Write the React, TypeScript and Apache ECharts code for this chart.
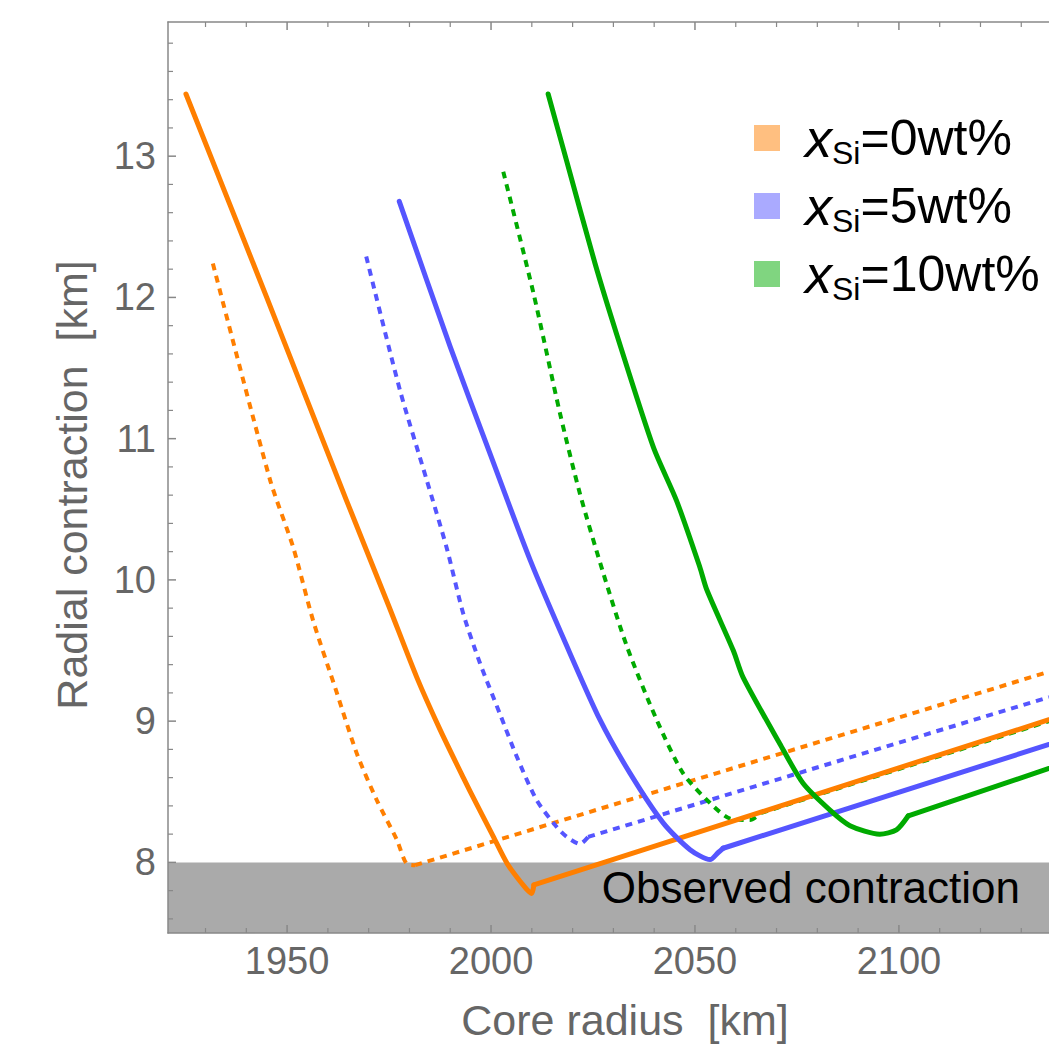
import React, { useEffect, useRef } from "react";
import * as echarts from "echarts";

// ---- axis ranges / ticks ----
const X_MIN = 1920.8;
const X_MAX = 2136.8;
const Y_MIN = 7.5;
const Y_MAX = 13.95;
const xMajorTicks = [1950, 2000, 2050, 2100];
const xMinorTicks = [1930, 1940, 1960, 1970, 1980, 1990, 2010, 2020, 2030, 2040, 2060, 2070, 2080, 2090, 2110, 2120, 2130];
const yMajorTicks = [8, 9, 10, 11, 12, 13];
const yMinorTicks = [7.6, 7.8, 8.2, 8.4, 8.6, 8.8, 9.2, 9.4, 9.6, 9.8, 10.2, 10.4, 10.6, 10.8, 11.2, 11.4, 11.6, 11.8, 12.2, 12.4, 12.6, 12.8, 13.2, 13.4, 13.6, 13.8];

// ---- observed contraction band ----
const observedBand = [7.5, 8.0];
const observedLabel = "Observed contraction";

// ---- series data ----
// x_Si = 0 wt%
const orangeSolidX = [1925.2, 1945.0, 1964.6, 1975.0, 1981.8, 1987.5, 1993.2, 1996.5, 2000.6, 2004.0, 2008.7, 2010.0, 2010.5, 2136.8];
const orangeSolidY = [13.44, 12.0, 10.56, 9.81, 9.31, 8.94, 8.60, 8.41, 8.18, 7.99, 7.81, 7.78, 7.84, 9.01];
const orangeDashX = [1931.8, 1945.8, 1951.5, 1956.4, 1962.2, 1967.1, 1972.0, 1976.9, 1979.3, 1981.4, 2136.8];
const orangeDashY = [12.24, 10.71, 10.23, 9.71, 9.20, 8.77, 8.44, 8.16, 7.99, 7.98, 9.35];
// x_Si = 5 wt%
const blueSolidX = [1977.5, 1990.0, 1999.8, 2009.6, 2018.6, 2026.7, 2034.1, 2042.2, 2048.8, 2053.7, 2055.7, 2056.9, 2136.8];
const blueSolidY = [12.68, 11.65, 10.89, 10.14, 9.53, 9.01, 8.63, 8.28, 8.09, 8.02, 8.07, 8.10, 8.835];
const blueDashX = [1969.4, 1977.7, 1984.2, 1989.1, 1993.2, 1997.3, 2002.2, 2006.3, 2011.2, 2016.1, 2018.6, 2021.8, 2023.8, 2136.8];
const blueDashY = [12.29, 11.34, 10.71, 10.23, 9.76, 9.41, 9.05, 8.75, 8.44, 8.25, 8.18, 8.13, 8.18, 9.17];
// x_Si = 10 wt%
const greenSolidX = [2014.0, 2018.5, 2025.5, 2030.8, 2039.8, 2045.5, 2051.2, 2052.9, 2059.4, 2061.8, 2070.8, 2076.5, 2083.1, 2088.0, 2095.3, 2099.4, 2102.3, 2136.8];
const greenSolidY = [13.44, 12.97, 12.24, 11.74, 10.94, 10.56, 10.09, 9.93, 9.50, 9.31, 8.84, 8.56, 8.37, 8.26, 8.20, 8.23, 8.33, 8.665];
const greenDashX = [2003.0, 2010.4, 2016.9, 2021.8, 2027.5, 2033.3, 2040.6, 2047.1, 2053.7, 2058.6, 2063.5, 2066.2, 2136.8];
const greenDashY = [12.89, 12.03, 11.18, 10.61, 10.05, 9.53, 9.01, 8.63, 8.42, 8.31, 8.30, 8.35, 9.0];

const legendValues = ["0", "5", "10"];
const lineColors = ["#ff7f00", "#5555ff", "#00aa00"];
const legendColors = ["#ffbf80", "#aaaaff", "#80d580"];

const xTitle = "Core radius  [km]";
const yTitle = "Radial contraction  [km]";

const FONT = "'Liberation Sans', Arial, Helvetica, sans-serif";
const AXIS_COLOR = "#888888";
const LABEL_COLOR = "#666666";
const MAJOR_LEN = 8;
const MINOR_LEN = 5;

const zip = (xs: number[], ys: number[]) => xs.map((x, i) => [x, ys[i]]);

function App() {
  const ref = useRef<HTMLDivElement | null>(null);

  useEffect(() => {
    if (!ref.current) return;
    const chart = echarts.init(ref.current, null, { renderer: "svg" });

    // each curve = smooth descending branch + straight branch after the kink
    const curve = (name: string, xs: number[], ys: number[], color: string, isDashed: boolean) => {
      const pts = zip(xs, ys);
      const n = pts.length;
      const lineStyle = isDashed
        ? { color, width: 4, type: [7, 6], join: "miter", cap: "butt" }
        : { color, width: 5, join: "round", cap: "round" };
      const base = { type: "line", showSymbol: false, symbol: "none", lineStyle, z: isDashed ? 3 : 4 };
      return [
        { ...base, name: name + " (branch)", data: pts.slice(0, n - 1), smooth: 0.25 },
        { ...base, name: name + " (linear)", data: pts.slice(n - 2), smooth: false },
      ];
    };

    const tickStyle = (major: boolean) => ({ stroke: AXIS_COLOR, lineWidth: major ? 1.5 : 1.2 });

    // x ticks (bottom and top), drawn through the axis scale
    const xTickSeries = {
      name: "xTicks",
      type: "custom",
      silent: true,
      z: 6,
      data: [...xMajorTicks.map((v) => [v, 1]), ...xMinorTicks.map((v) => [v, 0])],
      renderItem: (_p: any, api: any) => {
        const v = api.value(0);
        const major = api.value(1) === 1;
        const len = major ? MAJOR_LEN : MINOR_LEN;
        const b = api.coord([v, Y_MIN]);
        const t = api.coord([v, Y_MAX]);
        return {
          type: "group",
          children: [
            { type: "line", shape: { x1: b[0], y1: b[1], x2: b[0], y2: b[1] - len }, style: tickStyle(major) },
            { type: "line", shape: { x1: t[0], y1: t[1], x2: t[0], y2: t[1] + len }, style: tickStyle(major) },
          ],
        };
      },
    };
    const yTickSeries = {
      name: "yTicks",
      type: "custom",
      silent: true,
      z: 6,
      data: [...yMajorTicks.map((v) => [X_MIN, v, 1]), ...yMinorTicks.map((v) => [X_MIN, v, 0])],
      encode: { x: 0, y: 1 },
      renderItem: (_p: any, api: any) => {
        const v = api.value(1);
        const major = api.value(2) === 1;
        const len = major ? MAJOR_LEN : MINOR_LEN;
        const l = api.coord([X_MIN, v]);
        return { type: "line", shape: { x1: l[0], y1: l[1], x2: l[0] + len, y2: l[1] }, style: tickStyle(major) };
      },
    };

    const legendGraphics: any[] = [];
    legendValues.forEach((v, i) => {
      const cy = 138 + i * 68;
      legendGraphics.push({
        type: "rect",
        shape: { x: 754, y: cy - 13, width: 26, height: 26 },
        style: { fill: legendColors[i] },
        z: 10,
      });
      legendGraphics.push({
        type: "text",
        x: 805,
        y: cy,
        style: {
          text: `{x|x}{s|Si}{t|=${v}wt%}`,
          align: "left",
          verticalAlign: "middle",
          rich: {
            x: { fontFamily: FONT, fontSize: 54, fontStyle: "italic", fill: "#000", lineHeight: 62, verticalAlign: "middle" },
            s: { fontFamily: FONT, fontSize: 32, fill: "#000", lineHeight: 42, verticalAlign: "bottom" },
            t: { fontFamily: FONT, fontSize: 50, fill: "#000", lineHeight: 62, verticalAlign: "middle" },
          },
        },
        z: 10,
      });
    });

    const option: any = {
      animation: false,
      backgroundColor: "#ffffff",
      grid: { left: 168, right: 0, top: 22, bottom: 119, outerBoundsMode: "none", containLabel: false },
      xAxis: [
        {
          type: "value",
          min: X_MIN,
          max: X_MAX,
          position: "bottom",
          splitLine: { show: false },
          z: 5,
          axisLine: { show: true, onZero: false, lineStyle: { color: AXIS_COLOR, width: 1.5 } },
          axisTick: { show: false },
          axisLabel: {
            show: true,
            customValues: xMajorTicks,
            margin: 9,
            color: LABEL_COLOR,
            fontSize: 38,
            fontFamily: FONT,
            formatter: (val: number) => String(Math.round(val)),
          },
        },
        {
          type: "value",
          min: X_MIN,
          max: X_MAX,
          position: "top",
          splitLine: { show: false },
          z: 5,
          axisLine: { show: true, onZero: false, lineStyle: { color: AXIS_COLOR, width: 1.5 } },
          axisTick: { show: false },
          axisLabel: { show: false },
        },
      ],
      yAxis: [
        {
          type: "value",
          min: Y_MIN,
          max: Y_MAX,
          position: "left",
          splitLine: { show: false },
          z: 5,
          axisLine: { show: true, onZero: false, lineStyle: { color: AXIS_COLOR, width: 1.5 } },
          axisTick: { show: false },
          axisLabel: {
            show: true,
            customValues: yMajorTicks,
            margin: 12,
            color: LABEL_COLOR,
            fontSize: 38,
            fontFamily: FONT,
            formatter: (val: number) => String(Math.round(val)),
          },
        },
      ],
      series: [
        {
          name: "band",
          type: "line",
          data: [[X_MIN, observedBand[0]]],
          showSymbol: false,
          symbol: "none",
          lineStyle: { opacity: 0, width: 0 },
          z: 1,
          markArea: {
            silent: true,
            itemStyle: { color: "#aaaaaa", opacity: 1 },
            data: [[{ xAxis: X_MIN, yAxis: observedBand[0] }, { xAxis: X_MAX, yAxis: observedBand[1] }]],
          },
        },
        ...curve("orange dashed", orangeDashX, orangeDashY, lineColors[0], true),
        ...curve("blue dashed", blueDashX, blueDashY, lineColors[1], true),
        ...curve("green dashed", greenDashX, greenDashY, lineColors[2], true),
        ...curve("orange", orangeSolidX, orangeSolidY, lineColors[0], false),
        ...curve("blue", blueSolidX, blueSolidY, lineColors[1], false),
        ...curve("green", greenSolidX, greenSolidY, lineColors[2], false),
        xTickSeries,
        yTickSeries,
      ],
      graphic: [
        {
          type: "text",
          x: 1020,
          y: 887,
          style: { text: observedLabel, align: "right", verticalAlign: "middle", fontFamily: FONT, fontSize: 44, fill: "#000000" },
          z: 10,
        },
        {
          type: "text",
          x: 625,
          y: 1020,
          style: { text: xTitle, align: "center", verticalAlign: "middle", fontFamily: FONT, fontSize: 43, fill: LABEL_COLOR },
          z: 10,
        },
        {
          type: "text",
          x: 72,
          y: 485,
          rotation: Math.PI / 2,
          style: { text: yTitle, align: "center", verticalAlign: "middle", fontFamily: FONT, fontSize: 43, fill: LABEL_COLOR },
          z: 10,
        },
        ...legendGraphics,
      ],
    };

    chart.setOption(option);
    return () => chart.dispose();
  }, []);

  return (
    <div
      ref={ref}
      style={{ position: "absolute", left: 0, top: 0, width: 1049, height: 1052, background: "#fff" }}
    />
  );
}

export default App;
